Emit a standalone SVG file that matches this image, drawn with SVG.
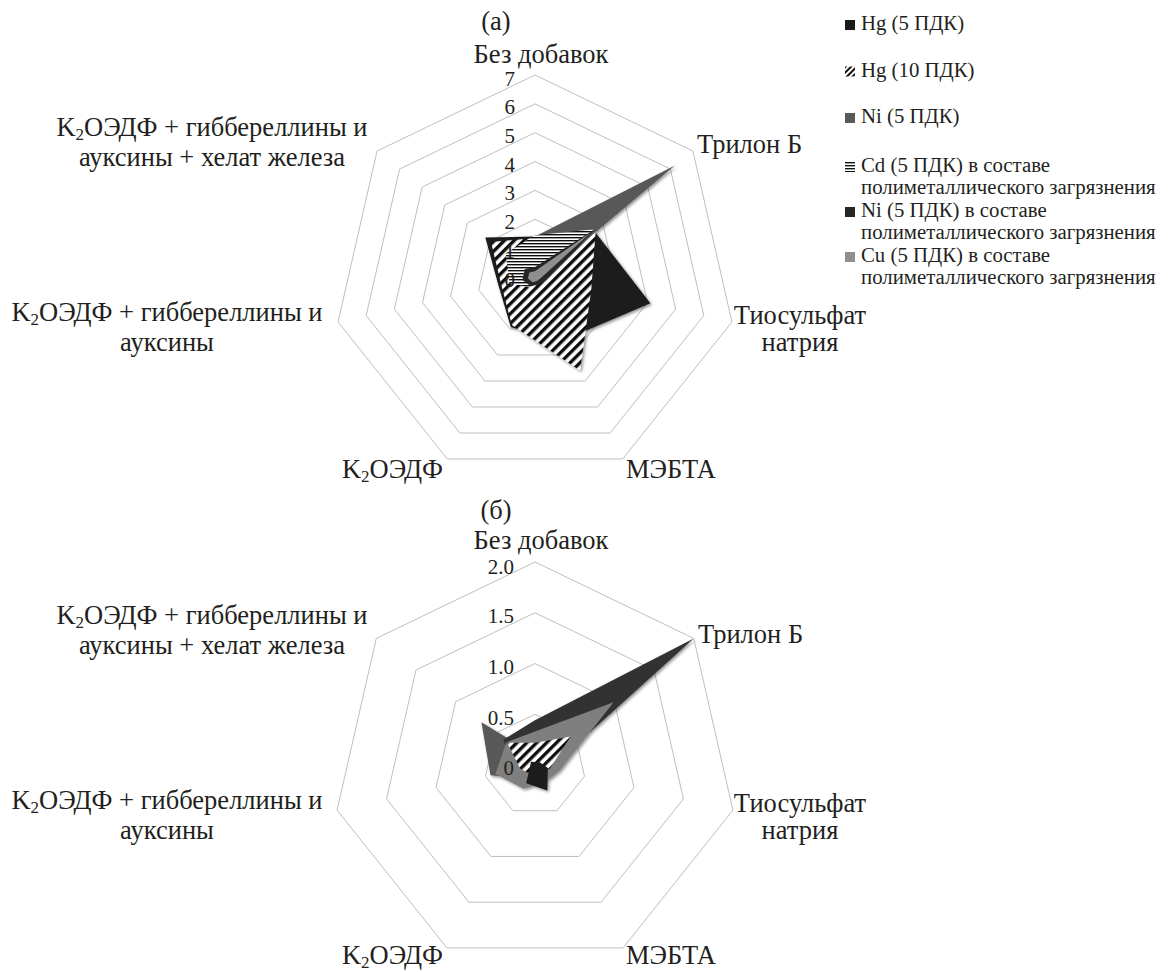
<svg xmlns="http://www.w3.org/2000/svg" width="1171" height="972" viewBox="0 0 1171 972">
<style>
  .ring{fill:none;stroke:#bfbfbf;stroke-width:1}
  .lbl{font-family:"Liberation Serif","DejaVu Serif",serif;font-size:26.5px;fill:#231f20}
  .tick{font-family:"Liberation Serif","DejaVu Serif",serif;font-size:21px;fill:#231f20;text-anchor:end}
  .leg{font-family:"Liberation Serif","DejaVu Serif",serif;font-size:20.8px;fill:#231f20}
  .c{text-anchor:middle}
  .hg5{fill:#1a1a1a}
  .hg10{fill:url(#hatch)}
  .ni5{fill:#595959}
  .cd{fill:url(#hlines)}
  .nip{fill:#262626}
  .cu{fill:#8f8f8f}
</style>
<defs>
  <pattern id="hatch" patternUnits="userSpaceOnUse" width="7" height="7" patternTransform="rotate(45)">
    <rect width="7" height="7" fill="#ffffff"/>
    <rect width="3.4" height="7" fill="#111111"/>
  </pattern>
  <pattern id="hatchS" patternUnits="userSpaceOnUse" width="4" height="4" patternTransform="rotate(45)">
    <rect width="4" height="4" fill="#ffffff"/>
    <rect width="2" height="4" fill="#111111"/>
  </pattern>
  <pattern id="hlines" patternUnits="userSpaceOnUse" width="6" height="3">
    <rect width="6" height="3" fill="#ffffff"/>
    <rect width="6" height="1.4" fill="#111111"/>
  </pattern>
  <filter id="sh" x="-20%" y="-20%" width="140%" height="140%">
    <feDropShadow dx="1.5" dy="1.5" stdDeviation="1.5" flood-color="#000" flood-opacity="0.45"/>
  </filter>
</defs>
<rect width="1171" height="972" fill="#ffffff"/>

<!-- Chart (a) -->
<g id="chart-a-grid">
  <polygon class="ring" points="535,248.14 557.56,259.01 563.13,283.42 547.52,303 522.48,303 506.87,283.42 512.44,259.01"/>
  <polygon class="ring" points="535,219.29 580.12,241.02 591.27,289.84 560.04,329 509.96,329 478.73,289.84 489.88,241.02"/>
  <polygon class="ring" points="535,190.43 602.68,223.02 619.4,296.26 572.56,355 497.44,355 450.6,296.26 467.32,223.02"/>
  <polygon class="ring" points="535,161.57 625.25,205.03 647.53,302.69 585.08,381 484.92,381 422.47,302.69 444.75,205.03"/>
  <polygon class="ring" points="535,132.71 647.81,187.04 675.67,309.11 597.6,407 472.4,407 394.33,309.11 422.19,187.04"/>
  <polygon class="ring" points="535,103.86 670.37,169.05 703.8,315.53 610.12,433 459.88,433 366.2,315.53 399.63,169.05"/>
  <polygon class="ring" points="535,75 692.93,151.06 731.94,321.95 622.64,459 447.36,459 338.06,321.95 377.07,151.06"/>
</g>
<g id="chart-a-data" filter="url(#sh)">
  <polygon id="a-hg5" class="hg5" points="535,236.6 593.66,230.22 650.34,303.33 565.05,339.4 510.84,327.18 498.43,285.35 485.36,237.41"/>
  <polygon id="a-hg10" class="hg10" points="535,238.04 595.91,228.42 591.26,289.84 580.08,370.6 511.84,325.1 501.24,284.71 491.01,241.92"/>
  <polygon id="a-ni5" class="ni5" points="535,236.6 674.88,165.45 540.63,278.28 537.5,282.2 531.24,284.8 523.75,279.57 523.72,268"/>
  <polygon id="a-cd" class="cd" points="535,235.16 594.79,229.32 543.44,278.93 537.5,282.2 529.99,287.4 509.6,283.2 505.7,253.6"/>
  <polygon id="a-nip" class="nip" points="535,266.9 595.91,228.42 546.25,279.57 538.76,284.8 530.62,286.1 522.34,279.89 524.84,268.9"/>
  <polygon id="a-cu" class="cu" points="535,271.23 591.4,232.02 540.63,278.28 536.88,280.9 532.5,282.2 527.97,278.6 529.36,272.5"/>
</g>
<g id="chart-a-ticks">
  <text class="tick" x="515" y="287">0</text>
  <text class="tick" x="515" y="258">1</text>
  <text class="tick" x="515" y="229">2</text>
  <text class="tick" x="515" y="200">3</text>
  <text class="tick" x="515" y="171.5">4</text>
  <text class="tick" x="515" y="142.5">5</text>
  <text class="tick" x="515" y="114">6</text>
  <text class="tick" x="515" y="85.5">7</text>
</g>
<g id="chart-a-labels">
  <text class="lbl c" x="496" y="30">(a)</text>
  <text id="a-l0" class="lbl c" x="541" y="63">Без добавок</text>
  <text id="a-l1" class="lbl" x="697" y="153">Трилон Б</text>
  <g id="a-l2"><text class="lbl c" x="800" y="324">Тиосульфат</text><text class="lbl c" x="800" y="351">натрия</text></g>
  <text id="a-l3" class="lbl" x="626" y="478">МЭБТА</text>
  <text id="a-l4" class="lbl" x="443" y="478" text-anchor="end">K<tspan font-size="17" dy="4">2</tspan><tspan dy="-4">ОЭДФ</tspan></text>
  <g id="a-l5"><text class="lbl c" x="167" y="321">K<tspan font-size="17" dy="4">2</tspan><tspan dy="-4">ОЭДФ + гиббереллины и</tspan></text><text class="lbl c" x="167" y="351">ауксины</text></g>
  <g id="a-l6"><text class="lbl c" x="212" y="136">K<tspan font-size="17" dy="4">2</tspan><tspan dy="-4">ОЭДФ + гиббереллины и</tspan></text><text class="lbl c" x="212" y="166">ауксины + хелат железа</text></g>
</g>

<!-- Chart (b) -->
<g id="chart-b-grid">
  <polygon class="ring" points="535,714.25 574.68,733.36 584.48,776.29 557.02,810.72 512.98,810.72 485.52,776.29 495.32,733.36"/>
  <polygon class="ring" points="535,663.5 614.36,701.72 633.96,787.59 579.04,856.45 490.96,856.45 436.04,787.59 455.64,701.72"/>
  <polygon class="ring" points="535,612.75 654.03,670.07 683.43,798.88 601.06,902.17 468.94,902.17 386.57,798.88 415.97,670.07"/>
  <polygon class="ring" points="535,562 693.71,638.43 732.91,810.17 623.08,947.9 446.92,947.9 337.09,810.17 376.29,638.43"/>
</g>
<g id="chart-b-data" filter="url(#sh)">
  <polygon id="b-ni5" class="ni5" points="535,754.85 546.9,755.51 542.92,766.81 538.52,772.32 528.39,778.72 490.47,775.16 481.44,722.28"/>
  <polygon id="b-nip" fill="#333333" points="535,720.34 693.71,638.43 549.85,768.39 539.4,774.14 529.72,775.97 515.21,769.52 503.26,739.69"/>
  <polygon id="b-cu" fill="#7f7f7f" points="535,731.5 613.57,702.35 559.74,770.65 543.81,783.29 523.55,788.78 495.42,774.03 506.43,742.22"/>
  <polygon id="b-hg10" class="hg10" points="535,742.67 570.71,736.52 549.85,768.39 539.4,774.14 530.6,774.14 520.15,768.39 507.22,742.85"/>
  <polygon id="b-hg5" class="hg5" points="535,761.95 538.97,761.83 547.87,767.94 547.33,790.61 526.2,783.29 530.05,766.13 531.03,761.83"/>
</g>
<g id="chart-b-ticks">
  <text class="tick" x="514" y="775">0</text>
  <text class="tick" x="514" y="724.5">0.5</text>
  <text class="tick" x="514" y="673.5">1.0</text>
  <text class="tick" x="514" y="623">1.5</text>
  <text class="tick" x="514" y="574">2.0</text>
</g>
<g id="chart-b-labels">
  <text class="lbl c" x="496" y="519">(б)</text>
  <text id="b-l0" class="lbl c" x="541" y="549">Без добавок</text>
  <text id="b-l1" class="lbl" x="698" y="643">Трилон Б</text>
  <g id="b-l2"><text class="lbl c" x="800" y="812">Тиосульфат</text><text class="lbl c" x="800" y="839">натрия</text></g>
  <text id="b-l3" class="lbl" x="626" y="964">МЭБТА</text>
  <text id="b-l4" class="lbl" x="443" y="964" text-anchor="end">K<tspan font-size="17" dy="4">2</tspan><tspan dy="-4">ОЭДФ</tspan></text>
  <g id="b-l5"><text class="lbl c" x="167" y="809">K<tspan font-size="17" dy="4">2</tspan><tspan dy="-4">ОЭДФ + гиббереллины и</tspan></text><text class="lbl c" x="167" y="839">ауксины</text></g>
  <g id="b-l6"><text class="lbl c" x="212" y="624">K<tspan font-size="17" dy="4">2</tspan><tspan dy="-4">ОЭДФ + гиббереллины и</tspan></text><text class="lbl c" x="212" y="654">ауксины + хелат железа</text></g>
</g>

<!-- Legend -->
<g id="legend">
  <g id="leg-hg5"><rect x="845" y="20" width="10" height="10" fill="#1a1a1a"/><text class="leg" x="861" y="30">Hg (5 ПДК)</text></g>
  <g id="leg-hg10"><rect x="845" y="66.5" width="10" height="10" fill="url(#hatchS)"/><text class="leg" x="861" y="76.5">Hg (10 ПДК)</text></g>
  <g id="leg-ni5"><rect x="845" y="113" width="10" height="10" fill="#595959"/><text class="leg" x="861" y="123">Ni (5 ПДК)</text></g>
  <g id="leg-cd"><rect x="845" y="162" width="10" height="10" fill="url(#hlines)"/><text class="leg" x="861" y="172">Cd (5 ПДК) в составе</text><text class="leg" x="861" y="194">полиметаллического загрязнения</text></g>
  <g id="leg-nip"><rect x="845" y="207" width="10" height="10" fill="#262626"/><text class="leg" x="861" y="217">Ni (5 ПДК) в составе</text><text class="leg" x="861" y="239">полиметаллического загрязнения</text></g>
  <g id="leg-cu"><rect x="845" y="252" width="10" height="10" fill="#8f8f8f"/><text class="leg" x="861" y="262">Cu (5 ПДК) в составе</text><text class="leg" x="861" y="284">полиметаллического загрязнения</text></g>
</g>
</svg>
